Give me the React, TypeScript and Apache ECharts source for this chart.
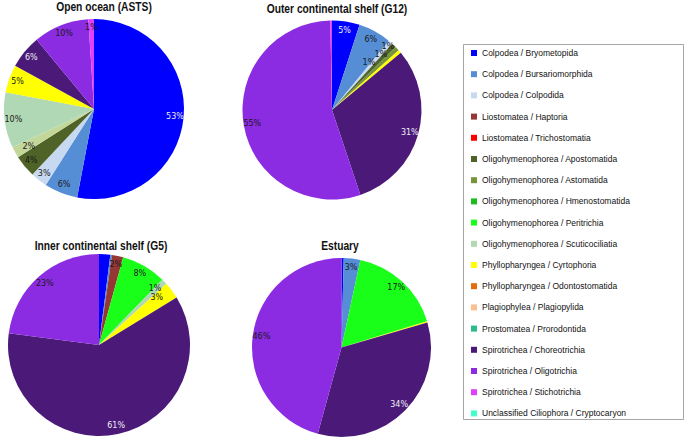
import React, { useEffect, useRef } from 'react';
import * as echarts from 'echarts';

const CATEGORIES = [
  'Colpodea / Bryometopida',
  'Colpodea / Bursariomorphida',
  'Colpodea / Colpodida',
  'Liostomatea / Haptoria',
  'Liostomatea / Trichostomatia',
  'Oligohymenophorea / Apostomatida',
  'Oligohymenophorea / Astomatida',
  'Oligohymenophorea / Hmenostomatida',
  'Oligohymenophorea / Peritrichia',
  'Oligohymenophorea / Scuticociliatia',
  'Phyllopharyngea / Cyrtophoria',
  'Phyllopharyngea / Odontostomatida',
  'Plagiophylea / Plagiopylida',
  'Prostomatea / Prorodontida',
  'Spirotrichea / Choreotrichia',
  'Spirotrichea / Oligotrichia',
  'Spirotrichea / Stichotrichia',
  'Unclassified Ciliophora / Cryptocaryon',
];

const COLORS = [
  '#0000ff', '#558ed5', '#c6d9f1', '#953735', '#ff0000', '#4f6228', '#77933c', '#1ebd1e',
  '#1aff1a', '#b0d8b4', '#ffff00', '#e46c0a', '#fac090', '#2bbc8c', '#4b1a78', '#8b2be2',
  '#e040fb', '#40ffcc',
];

// percentages per category (same order as CATEGORIES)
const OPEN_OCEAN = [53, 6, 3, 0, 0, 4, 2, 0, 0, 10, 5, 0, 0, 0, 6, 10, 1, 0];
const OUTER_SHELF = [5, 6, 0.8, 0, 0, 0.8, 0.8, 0, 0, 0, 0.6, 0, 0, 0, 31, 55, 0.3, 0];
const INNER_SHELF = [2, 0.3, 0, 2, 0, 0, 0, 0, 8, 1, 3, 0, 0, 0, 61, 23, 0, 0];
const ESTUARY = [0.4, 3, 0, 0, 0, 0, 0, 0, 17, 0, 0.2, 0, 0, 0, 34, 46, 0, 0];

const TITLES = ['Open ocean (ASTS)', 'Outer continental shelf (G12)', 'Inner continental shelf (G5)', 'Estuary'];

// slice colour override observed in the open ocean pie (Astomatida drawn pale)
const OPEN_OCEAN_OVERRIDES: Record<number, string> = { 6: '#c4d79b' };

const LIGHT_LABEL = new Set([0, 14]);

// nudges for crowded small-slice labels: key "pie_category"
const LABEL_OFFSETS: Record<string, [number, number]> = {
  '1_2': [-16, 14],
  '1_5': [-7, 3],
  '1_6': [-3, -8],
  '2_9': [-3, 1],
  '2_10': [-8, 2],
  '0_6': [6, -2],
};

const PIES = [
  { values: OPEN_OCEAN, center: [94, 109], r: 90, overrides: OPEN_OCEAN_OVERRIDES, title: [104, 7] },
  { values: OUTER_SHELF, center: [332, 110], r: 89.5, overrides: {}, title: [337, 9] },
  { values: INNER_SHELF, center: [99, 345], r: 91, overrides: {}, title: [101, 246] },
  { values: ESTUARY, center: [341.5, 347.5], r: 89.5, overrides: {}, title: [340, 246] },
];

export default function App() {
  const ref = useRef<HTMLDivElement>(null);
  useEffect(() => {
    document.body.style.margin = '0';
    const chart = echarts.init(ref.current!, undefined, { renderer: 'svg' });
    const series: any[] = [];
    PIES.forEach((p, pi) => {
      series.push({
        type: 'pie',
        center: p.center,
        radius: p.r,
        startAngle: 90,
        clockwise: true,
        label: { show: false },
        labelLine: { show: false },
        emphasis: { disabled: true },
        data: CATEGORIES.map((name, i) => ({
          name,
          value: p.values[i],
          itemStyle: { color: (p.overrides as any)[i] || COLORS[i] },
        })),
      });
      series.push({
        type: 'pie',
        center: p.center,
        radius: [p.r * 0.74, p.r],
        startAngle: 90,
        clockwise: true,
        silent: true,
        legendHoverLink: false,
        itemStyle: { color: 'rgba(0,0,0,0)' },
        emphasis: { disabled: true },
        labelLine: { show: false },
        label: {
          show: true,
          position: 'inside',
          fontFamily: 'DejaVu Sans',
          fontSize: 8,
          formatter: (d: any) => (d.value >= 0.75 ? Math.round(d.value) + '%' : ''),
        },
        data: CATEGORIES.map((name, i) => {
          const off = LABEL_OFFSETS[pi + '_' + i];
          return {
            name: 'lbl' + pi + '_' + i,
            value: p.values[i],
            label: {
              color: LIGHT_LABEL.has(i) ? '#eeeef6' : '#1a1a1a',
              ...(off ? { offset: off } : {}),
            },
          };
        }),
      });
    });
    const graphics: any[] = PIES.map((p, i) => ({
      type: 'text',
      x: p.title[0],
      y: p.title[1],
      scaleX: 0.82,
      style: {
        text: TITLES[i],
        textAlign: 'center',
        textVerticalAlign: 'middle',
        align: 'center',
        verticalAlign: 'middle',
        fontFamily: 'Liberation Sans, Arial, sans-serif',
        fontWeight: 'bold',
        fontSize: 12.5,
        fill: '#111',
      },
    }));
    graphics.push({
      type: 'rect',
      shape: { x: 463.5, y: 44.5, width: 220, height: 375 },
      style: { fill: 'none', stroke: '#a6a6a6', lineWidth: 1 },
      z: -1,
    });
    chart.setOption({
      animation: false,
      backgroundColor: '#fff',
      legend: {
        data: CATEGORIES.map((name, i) => ({ name, itemStyle: { color: COLORS[i] } })),
        orient: 'vertical',
        left: 471,
        top: 47,
        padding: 0,
        icon: 'rect',
        itemWidth: 6,
        itemHeight: 6,
        itemGap: 9.2,
        selectedMode: false,
        textStyle: {
          fontFamily: 'Liberation Sans, Arial, sans-serif',
          fontSize: 8.5,
          lineHeight: 12,
          color: '#111',
        },
      },
      graphic: graphics,
      series,
    });
    return () => chart.dispose();
  }, []);
  return <div ref={ref} style={{ width: 685, height: 440 }} />;
}
